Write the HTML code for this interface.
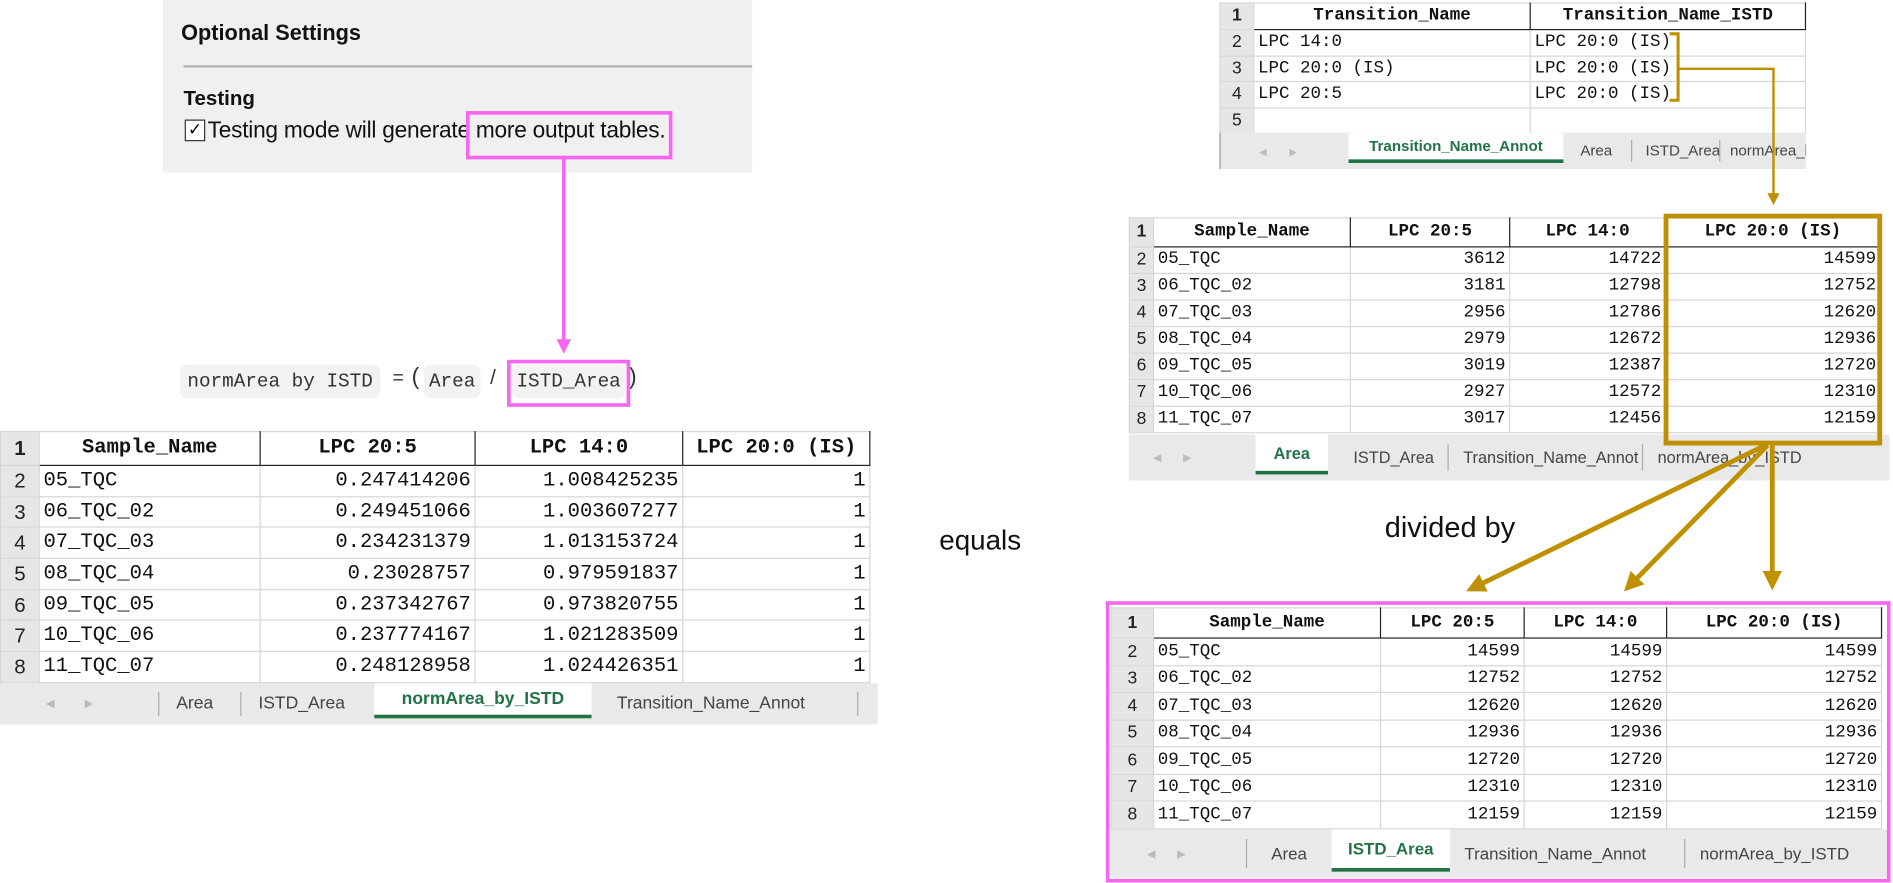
<!DOCTYPE html>
<html><head><meta charset="utf-8"><style>
html,body{margin:0;padding:0;background:#fff;overflow:hidden}
#w{position:absolute;left:0;top:0;width:1568px;height:730px;transform:scale(1.20727);transform-origin:0 0;}
.a{position:absolute}
.t{position:absolute;border-collapse:collapse;table-layout:fixed;font-family:"Liberation Mono",monospace;background:#fff;color:#111}
.t td{border:1px solid #d6d6d6;padding:0 3px;white-space:nowrap;overflow:hidden;line-height:1}
.t td.n{background:#e6e6e6;text-align:center;font-family:"Liberation Sans",sans-serif;color:#222;padding:0}
.t tr.h td{font-weight:bold;text-align:center;border:1.5px solid #222;border-top-color:#d6d6d6}
.t tr.h td.n{border:1px solid #d6d6d6}
.t td.r{text-align:right}
.tab{position:absolute;background:#e9e9e9;font-family:"Liberation Sans",sans-serif;color:#444}
.tab span{position:absolute;top:50%;transform:translateY(-50%);white-space:nowrap}
.tab .act{color:#217346;font-weight:bold;background:#fff;border-bottom:3px solid #217346;top:0;height:calc(100% - 8px);transform:none;display:flex;align-items:center;justify-content:center}
.tab .s{width:1px;height:60%;background:#aaa;top:20%;transform:none}
.tab .ar{color:#bbb}
.ui{font-family:"Liberation Sans",sans-serif;color:#111;white-space:nowrap}
.chip{position:absolute;background:#f2f2f2;border-radius:6px;font-family:"Liberation Mono",monospace;font-size:16px;color:#333;display:flex;align-items:center;justify-content:center;white-space:nowrap}
</style></head><body><div id="w">

<!-- Optional settings panel -->
<div class="a" style="left:135px;top:0;width:488px;height:143px;background:#f0f0f0"></div>
<div class="a ui" style="left:150px;top:17px;font-size:18px;font-weight:bold">Optional Settings</div>
<div class="a" style="left:152px;top:54px;width:471px;height:2px;background:#b4b4b4"></div>
<div class="a ui" style="left:152px;top:72px;font-size:17px;font-weight:bold">Testing</div>
<div class="a" style="left:153px;top:99px;width:15px;height:16px;border:1.5px solid #333;background:#fff;font-size:14px;line-height:16px;text-align:center;font-family:'DejaVu Sans',sans-serif">✓</div>
<div class="a ui" style="left:172px;top:97px;font-size:18.8px;letter-spacing:-0.2px">Testing mode will generate more output tables.</div>
<div class="a" style="left:386px;top:92px;width:165px;height:34px;border:3px solid #f766f0"></div>

<!-- formula -->
<div class="chip" style="left:149px;top:302px;width:166px;height:28px">normArea by ISTD</div>
<div class="a" style="left:325px;top:305px;font-family:'Liberation Mono',monospace;font-size:16px;color:#333">=</div>
<div class="a" style="left:341px;top:302px;font-family:'Liberation Sans',sans-serif;font-size:19px;color:#333">(</div>
<div class="chip" style="left:351px;top:302px;width:47px;height:28px">Area</div>
<div class="a" style="left:406px;top:303px;font-family:'Liberation Sans',sans-serif;font-size:17px;color:#333">/</div>
<div class="chip" style="left:424px;top:302px;width:94px;height:28px">ISTD_Area</div>
<div class="a" style="left:521px;top:302px;font-family:'Liberation Sans',sans-serif;font-size:19px;color:#333">)</div>
<div class="a" style="left:420px;top:298px;width:96px;height:33px;border:3px solid #f766f0"></div>

<!-- left table -->
<table class="t" style="left:0;top:357px;width:720px;font-size:17px">
<colgroup><col style="width:32px"><col style="width:183px"><col style="width:178px"><col style="width:172px"><col style="width:155px"></colgroup>
<tr class="h" style="height:28px"><td class="n">1</td><td>Sample_Name</td><td>LPC 20:5</td><td>LPC 14:0</td><td>LPC 20:0 (IS)</td></tr>
<tr style="height:25.7px"><td class="n">2</td><td>05_TQC</td><td class="r">0.247414206</td><td class="r">1.008425235</td><td class="r">1</td></tr>
<tr style="height:25.7px"><td class="n">3</td><td>06_TQC_02</td><td class="r">0.249451066</td><td class="r">1.003607277</td><td class="r">1</td></tr>
<tr style="height:25.7px"><td class="n">4</td><td>07_TQC_03</td><td class="r">0.234231379</td><td class="r">1.013153724</td><td class="r">1</td></tr>
<tr style="height:25.7px"><td class="n">5</td><td>08_TQC_04</td><td class="r">0.23028757</td><td class="r">0.979591837</td><td class="r">1</td></tr>
<tr style="height:25.7px"><td class="n">6</td><td>09_TQC_05</td><td class="r">0.237342767</td><td class="r">0.973820755</td><td class="r">1</td></tr>
<tr style="height:25.7px"><td class="n">7</td><td>10_TQC_06</td><td class="r">0.237774167</td><td class="r">1.021283509</td><td class="r">1</td></tr>
<tr style="height:25.7px"><td class="n">8</td><td>11_TQC_07</td><td class="r">0.248128958</td><td class="r">1.024426351</td><td class="r">1</td></tr>
</table>
<div class="tab" style="left:0;top:566px;width:727px;height:34px;font-size:14.5px">
<span class="ar" style="left:38px">◂</span><span class="ar" style="left:70px">▸</span>
<span class="s" style="left:131px"></span><span style="left:146px">Area</span>
<span class="s" style="left:199px"></span><span style="left:214px">ISTD_Area</span>
<span class="act" style="left:310px;width:180px">normArea_by_ISTD</span>
<span style="left:511px">Transition_Name_Annot</span><span class="s" style="left:710px"></span>
</div>

<div class="a ui" style="left:778px;top:434px;font-size:23px">equals</div>

<!-- top right table -->
<table class="t" style="left:1010px;top:2px;width:485px;font-size:14.5px">
<colgroup><col style="width:28px"><col style="width:229px"><col style="width:228px"></colgroup>
<tr class="h" style="height:22px"><td class="n">1</td><td>Transition_Name</td><td>Transition_Name_ISTD</td></tr>
<tr style="height:21.5px"><td class="n">2</td><td>LPC 14:0</td><td>LPC 20:0 (IS)</td></tr>
<tr style="height:21.5px"><td class="n">3</td><td>LPC 20:0 (IS)</td><td>LPC 20:0 (IS)</td></tr>
<tr style="height:21.5px"><td class="n">4</td><td>LPC 20:5</td><td>LPC 20:0 (IS)</td></tr>
<tr style="height:21.5px"><td class="n">5</td><td></td><td></td></tr>
</table>
<div class="tab" style="left:1010px;top:110px;width:485px;height:30px;font-size:12.5px;overflow:hidden;border-left:1px solid #999">
<span class="ar" style="left:32px">◂</span><span class="ar" style="left:57px">▸</span>
<span class="act" style="left:106px;width:178px">Transition_Name_Annot</span>
<span style="left:298px">Area</span><span class="s" style="left:340px"></span>
<span style="left:352px">ISTD_Area</span><span class="s" style="left:413px"></span>
<span style="left:422px">normArea_by_ISTD</span>
</div>

<!-- Area table -->
<table class="t" style="left:935px;top:180px;width:622px;font-size:14.5px">
<colgroup><col style="width:20px"><col style="width:163px"><col style="width:132px"><col style="width:129px"><col style="width:178px"></colgroup>
<tr class="h" style="height:24px"><td class="n">1</td><td>Sample_Name</td><td>LPC 20:5</td><td>LPC 14:0</td><td>LPC 20:0 (IS)</td></tr>
<tr style="height:22px"><td class="n">2</td><td>05_TQC</td><td class="r">3612</td><td class="r">14722</td><td class="r">14599</td></tr>
<tr style="height:22px"><td class="n">3</td><td>06_TQC_02</td><td class="r">3181</td><td class="r">12798</td><td class="r">12752</td></tr>
<tr style="height:22px"><td class="n">4</td><td>07_TQC_03</td><td class="r">2956</td><td class="r">12786</td><td class="r">12620</td></tr>
<tr style="height:22px"><td class="n">5</td><td>08_TQC_04</td><td class="r">2979</td><td class="r">12672</td><td class="r">12936</td></tr>
<tr style="height:22px"><td class="n">6</td><td>09_TQC_05</td><td class="r">3019</td><td class="r">12387</td><td class="r">12720</td></tr>
<tr style="height:22px"><td class="n">7</td><td>10_TQC_06</td><td class="r">2927</td><td class="r">12572</td><td class="r">12310</td></tr>
<tr style="height:22px"><td class="n">8</td><td>11_TQC_07</td><td class="r">3017</td><td class="r">12456</td><td class="r">12159</td></tr>
</table>
<div class="tab" style="left:935px;top:360px;width:630px;height:38px;font-size:13.5px">
<span class="ar" style="left:20px">◂</span><span class="ar" style="left:45px">▸</span>
<span class="act" style="left:105px;width:60px">Area</span>
<span style="left:186px">ISTD_Area</span><span class="s" style="left:264px"></span>
<span style="left:277px">Transition_Name_Annot</span><span class="s" style="left:425px"></span>
<span style="left:438px">normArea_by_ISTD</span>
</div>

<!-- ISTD_Area table -->
<table class="t" style="left:920px;top:503px;width:638px;font-size:14.5px">
<colgroup><col style="width:35px"><col style="width:188px"><col style="width:119px"><col style="width:118px"><col style="width:178px"></colgroup>
<tr class="h" style="height:25px"><td class="n">1</td><td>Sample_Name</td><td>LPC 20:5</td><td>LPC 14:0</td><td>LPC 20:0 (IS)</td></tr>
<tr style="height:22.5px"><td class="n">2</td><td>05_TQC</td><td class="r">14599</td><td class="r">14599</td><td class="r">14599</td></tr>
<tr style="height:22.5px"><td class="n">3</td><td>06_TQC_02</td><td class="r">12752</td><td class="r">12752</td><td class="r">12752</td></tr>
<tr style="height:22.5px"><td class="n">4</td><td>07_TQC_03</td><td class="r">12620</td><td class="r">12620</td><td class="r">12620</td></tr>
<tr style="height:22.5px"><td class="n">5</td><td>08_TQC_04</td><td class="r">12936</td><td class="r">12936</td><td class="r">12936</td></tr>
<tr style="height:22.5px"><td class="n">6</td><td>09_TQC_05</td><td class="r">12720</td><td class="r">12720</td><td class="r">12720</td></tr>
<tr style="height:22.5px"><td class="n">7</td><td>10_TQC_06</td><td class="r">12310</td><td class="r">12310</td><td class="r">12310</td></tr>
<tr style="height:22.5px"><td class="n">8</td><td>11_TQC_07</td><td class="r">12159</td><td class="r">12159</td><td class="r">12159</td></tr>
</table>
<div class="tab" style="left:920px;top:687px;width:643px;height:40px;font-size:14px">
<span class="ar" style="left:30px">◂</span><span class="ar" style="left:55px">▸</span>
<span class="s" style="left:112px"></span><span style="left:133px">Area</span>
<span class="act" style="left:183px;width:98px">ISTD_Area</span>
<span style="left:293px">Transition_Name_Annot</span><span class="s" style="left:475px"></span>
<span style="left:488px">normArea_by_ISTD</span>
</div>
<div class="a" style="left:916px;top:498px;width:644px;height:227px;border:3px solid #f766f0"></div>

<div class="a ui" style="left:1147px;top:424px;font-size:24px">divided by</div>

<svg class="a" style="left:0;top:0" width="1568" height="730" viewBox="0 0 1568 730">
<defs>
<marker id="pk" markerWidth="4" markerHeight="4" refX="3" refY="2" orient="auto" markerUnits="strokeWidth"><path d="M0,0 L4,2 L0,4 z" fill="#f766f0"/></marker>
<marker id="gd" markerWidth="4" markerHeight="4" refX="3" refY="2" orient="auto" markerUnits="strokeWidth"><path d="M0,0 L4,2 L0,4 z" fill="#bf9000"/></marker>
<marker id="gd2" markerWidth="5" markerHeight="5" refX="4" refY="2.5" orient="auto" markerUnits="strokeWidth"><path d="M0,0 L5,2.5 L0,5 z" fill="#bf9000"/></marker>
</defs>
<line x1="467" y1="129" x2="467" y2="290" stroke="#f766f0" stroke-width="3" marker-end="url(#pk)"/>
<path d="M1383,28 H1390 V83 H1383" fill="none" stroke="#bf9000" stroke-width="2.5"/>
<path d="M1390,57 H1469 V168" fill="none" stroke="#bf9000" stroke-width="2" marker-end="url(#gd2)"/>
<rect x="1380" y="179" width="177" height="188" fill="none" stroke="#bf9000" stroke-width="4"/>
<line x1="1462" y1="369" x2="1218" y2="488" stroke="#bf9000" stroke-width="4" marker-end="url(#gd)"/>
<line x1="1464" y1="369" x2="1348" y2="487" stroke="#bf9000" stroke-width="4" marker-end="url(#gd)"/>
<line x1="1468" y1="369" x2="1468" y2="485" stroke="#bf9000" stroke-width="4" marker-end="url(#gd)"/>
</svg>
</div></body></html>
